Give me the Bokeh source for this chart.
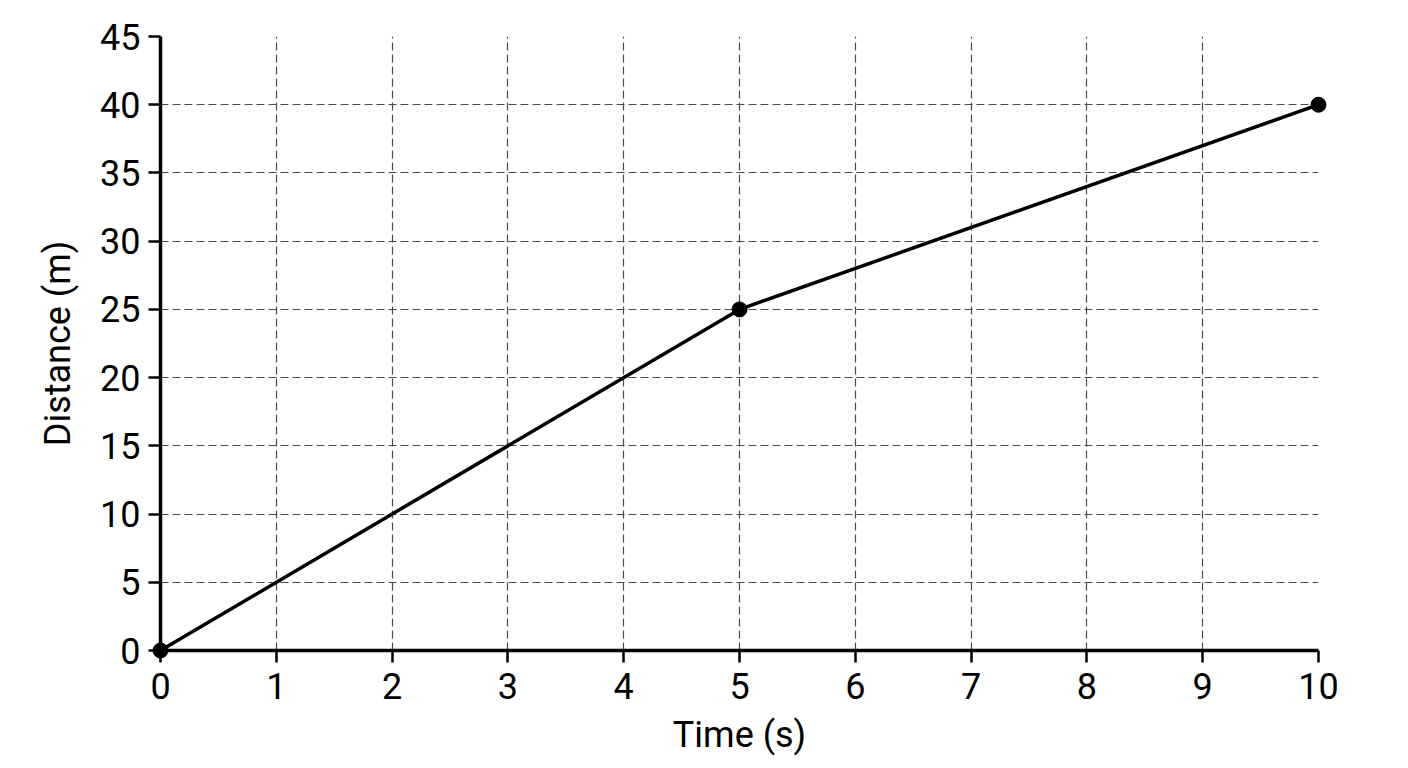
from bokeh.plotting import figure
from bokeh.embed import file_html
from bokeh.resources import INLINE
from bokeh.models import Range1d, FixedTicker

# Data
time_s = [0, 5, 10]
distance_m = [0, 25, 40]
x_ticks = [0, 1, 2, 3, 4, 5, 6, 7, 8, 9, 10]
y_ticks = [0, 5, 10, 15, 20, 25, 30, 35, 40, 45]

p = figure(
    frame_width=1158, frame_height=614,
    min_border_left=160, min_border_top=36, min_border_bottom=116, min_border_right=50,
    x_range=Range1d(0, 10), y_range=Range1d(0, 45),
    output_backend="svg", toolbar_location=None,
)
p.outline_line_color = None
p.background_fill_color = "white"
p.border_fill_color = "white"

p.xaxis.ticker = FixedTicker(ticks=x_ticks)
p.yaxis.ticker = FixedTicker(ticks=y_ticks)
p.xgrid.ticker = FixedTicker(ticks=x_ticks)
p.ygrid.ticker = FixedTicker(ticks=y_ticks)

for ax in (p.xaxis, p.yaxis):
    ax.axis_line_width = 3.5
    ax.axis_line_color = "black"
    ax.major_tick_line_width = 2.5
    ax.major_tick_line_color = "black"
    ax.major_tick_in = 0
    ax.major_tick_out = 12
    ax.minor_tick_line_color = None
    ax.major_label_text_font = "Roboto"
    ax.major_label_text_font_size = "36px"
    ax.major_label_text_color = "black"
    ax.axis_label_text_font = "Roboto"
    ax.axis_label_text_font_size = "36px"
    ax.axis_label_text_font_style = "normal"
    ax.axis_label_text_color = "black"

p.xaxis.major_label_standoff = 10
p.yaxis.major_label_standoff = 8
p.xaxis.axis_label = "Time (s)"
p.yaxis.axis_label = "Distance (m)"
p.xaxis.axis_label_standoff = 12
p.yaxis.axis_label_standoff = 18

for g in (p.xgrid, p.ygrid):
    g.grid_line_color = "#4a4a4a"
    g.grid_line_width = 1.2
    g.grid_line_dash = "8 4"

p.line(time_s, distance_m, line_color="black", line_width=3.5, level="overlay")
p.scatter(time_s, distance_m, size=15, fill_color="black", line_color="black", level="overlay")

open("out.html", "w").write(file_html(p, INLINE))
